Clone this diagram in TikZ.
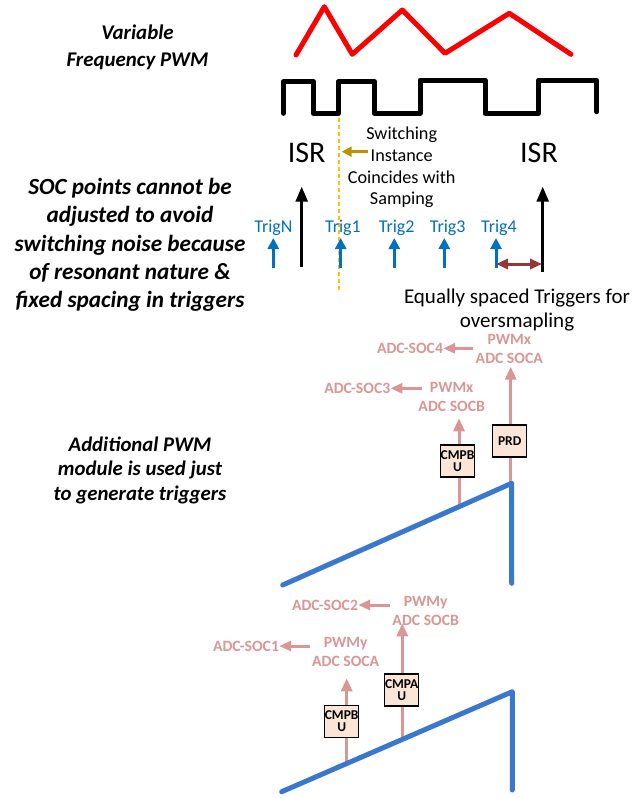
\documentclass[tikz,border=0pt]{standalone}
\usepackage{fontspec}
\setmainfont{Carlito}
\usetikzlibrary{arrows.meta}
\definecolor{wred}{HTML}{FF0000}
\definecolor{sawblue}{HTML}{3A78D0}
\definecolor{trigblue}{HTML}{0070C0}
\definecolor{pinkc}{HTML}{D99694}
\definecolor{goldc}{HTML}{BF9000}
\definecolor{yelc}{HTML}{FFC000}
\definecolor{brownc}{HTML}{953735}
\definecolor{boxfill}{HTML}{FBE5D6}
\begin{document}
\begin{tikzpicture}[x=1pt,y=-1pt,
  note/.style={align=center,inner sep=0pt,font=\fontsize{23.2}{28.3}\selectfont\bfseries\itshape},
  isr/.style={inner sep=0pt,font=\fontsize{30}{34}\selectfont},
  triglbl/.style={inner sep=0pt,text=trigblue,font=\fontsize{18}{20}\selectfont},
  trigarrow/.style={trigblue,line width=3pt,-{Triangle[length=11pt,width=11pt]}},
  israrrow/.style={black,line width=2.5pt,-{Triangle[length=15pt,width=12pt]}},
  pinktxt/.style={align=center,inner sep=0pt,text=pinkc,font=\fontsize{15.7}{19}\selectfont\bfseries},
  pinkarrow/.style={pinkc,line width=3pt,-{Triangle[length=13pt,width=11pt]}},
  regbox/.style={draw=black,line width=1.5pt,fill=boxfill,minimum width=34pt,minimum height=32pt,inner sep=0pt,align=center,font=\fontsize{13.5}{12}\selectfont\bfseries},
  wave/.style={line width=5pt,line cap=round,line join=round}
]
\useasboundingbox (0,0) rectangle (635,798);

% waveforms
\draw[wave,wred] (296,55) -- (324.3,6.7) -- (352.3,54.3) -- (402.3,10) -- (445,53.3) -- (509.3,13.3) -- (571,54.3);
\draw[wave,black] (283.3,113.3) -- (283.3,81.7) -- (313.3,81.7) -- (313.3,113.3) -- (338.3,113.3) -- (338.3,81.7) -- (374.3,81.7) -- (374.3,113.3) -- (420,113.3) -- (420,80) -- (485,80) -- (485,113.3) -- (538.3,113.3) -- (538.3,80) -- (596.7,80) -- (596.7,111.7);

% left notes
\node[note,font=\fontsize{20.9}{27}\selectfont\bfseries\itshape] (varpwm) at (137.5,47) {Variable\\Frequency PWM};
\node[note] (socnote) at (130,245) {SOC points cannot be\\adjusted to avoid\\switching noise because\\of resonant nature \&\\fixed spacing in triggers};
\node[note,font=\fontsize{20.8}{24.5}\selectfont\bfseries\itshape] (addnote) at (140,470) {Additional PWM\\module is used just\\to generate triggers};

% ISR
\node[isr] (isr1) at (306.7,153) {ISR};
\node[isr] (isr2) at (539,153) {ISR};
\coordinate (i1b) at (301.7,266.7);
\coordinate (i1t) at (301.7,186.7);
\coordinate (i2b) at (542.7,271.7);
\coordinate (i2t) at (542.7,186.7);
\draw[israrrow] (i1b) -- (i1t);
\draw[israrrow] (i2b) -- (i2t);

% yellow dotted line and switching note
\coordinate (yt) at (339,118);
\coordinate (yb) at (339,293);
\draw[yelc,line width=2pt,dash pattern=on 4pt off 3pt] (yt) -- (yb);
\node[align=center,inner sep=0pt,font=\fontsize{18.2}{21.7}\selectfont] (swnote) at (401.7,167.5) {Switching\\Instance\\Coincides with\\Samping};
\coordinate (ga) at (368,151.7);
\coordinate (gb) at (341.7,151.7);
\draw[goldc,line width=3pt,-{Triangle[length=10pt,width=10pt]}] (ga) -- (gb);

% triggers
\foreach \nm/\x/\lx/\txt in {tn/273.3/273.5/TrigN, t1/340.7/343/Trig1, t2/394.3/396.7/Trig2, t3/444.3/447.7/Trig3, t4/496/499/Trig4}{
  \node[triglbl] (\nm lbl) at (\lx,228.3) {\txt};
  \coordinate (\nm b) at (\x,268);
  \coordinate (\nm t) at (\x,238);
  \draw[trigarrow] (\nm b) -- (\nm t);
}
\coordinate (da) at (496,264);
\coordinate (db) at (542,264);
\draw[brownc,line width=3pt,{Triangle[length=12pt,width=10pt]}-{Triangle[length=12pt,width=10pt]}] (da) -- (db);
\node[align=center,inner sep=0pt,font=\fontsize{21}{23.7}\selectfont] (eqnote) at (517,310) {Equally spaced Triggers for\\oversmapling};

% upper PWM (x)
\coordinate (ur0) at (282.7,585);
\coordinate (ur1) at (511.7,483.3);
\coordinate (ur2) at (511.7,583.3);
\coordinate (prdb) at (510.7,483.3);
\coordinate (prdt) at (510.7,366.7);
\coordinate (cmpbxb) at (459,506.7);
\coordinate (cmpbxt) at (459,418.3);
\draw[pinkarrow] (prdb) -- (prdt);
\draw[pinkarrow] (cmpbxb) -- (cmpbxt);
\draw[wave,sawblue] (ur0) -- (ur1) -- (ur2);
\node[regbox] (prd) at (509.7,441) {PRD};
\node[regbox,minimum height=32pt] (cmpbx) at (457.5,461) {CMPB\\U};
\node[pinktxt] (socax) at (509.3,349) {PWMx\\ADC SOCA};
\node[pinktxt] (socbx) at (451.7,397.2) {PWMx\\ADC SOCB};
\node[pinktxt] (soc4) at (410,348.3) {ADC-SOC4};
\node[pinktxt] (soc3) at (357.3,388.3) {ADC-SOC3};
\coordinate (s4a) at (473.3,348.3);
\coordinate (s3a) at (421.7,388.3);
\draw[pinkarrow,-{Triangle[length=12pt,width=10pt]}] (s4a) -- (soc4.east);
\draw[pinkarrow,-{Triangle[length=12pt,width=10pt]}] (s3a) -- (soc3.east);

% lower PWM (y)
\coordinate (lr0) at (281.7,791.7);
\coordinate (lr1) at (512.3,691.7);
\coordinate (lr2) at (512.3,790);
\coordinate (cmpbyb) at (346.7,763.5);
\coordinate (cmpbyt) at (346.7,678.3);
\coordinate (cmpayb) at (402.3,739.4);
\coordinate (cmpayt) at (402.3,623.3);
\draw[pinkarrow] (cmpbyb) -- (cmpbyt);
\draw[pinkarrow] (cmpayb) -- (cmpayt);
\draw[wave,sawblue] (lr0) -- (lr1) -- (lr2);
\node[regbox] (cmpby) at (341.7,721.3) {CMPB\\U};
\node[regbox] (cmpay) at (401.7,690) {CMPA\\U};
\node[pinktxt] (socby) at (425.7,610.8) {PWMy\\ADC SOCB};
\node[pinktxt] (socay) at (345.7,651.8) {PWMy\\ADC SOCA};
\node[pinktxt] (soc2) at (325,605) {ADC-SOC2};
\node[pinktxt] (soc1) at (246,646) {ADC-SOC1};
\coordinate (s2a) at (390,605);
\coordinate (s1a) at (310,646);
\draw[pinkarrow,-{Triangle[length=12pt,width=10pt]}] (s2a) -- (soc2.east);
\draw[pinkarrow,-{Triangle[length=12pt,width=10pt]}] (s1a) -- (soc1.east);
\end{tikzpicture}
\end{document}
